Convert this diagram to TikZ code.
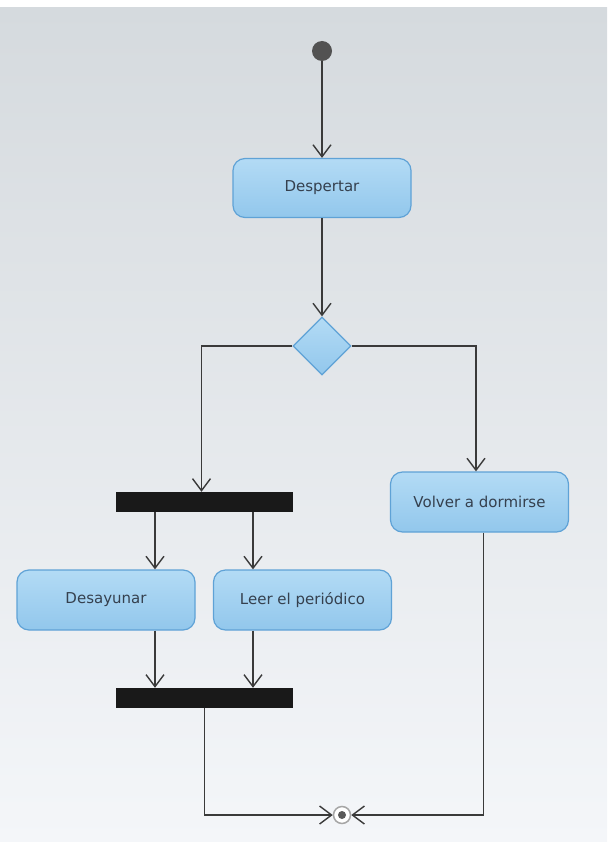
\documentclass[tikz,border=0pt]{standalone}
\usepackage{fontspec}
\setmainfont{DejaVu Sans}
\usetikzlibrary{shapes.geometric,arrows.meta,calc}
\definecolor{boxfillA}{HTML}{B3DBF5}
\definecolor{boxfillB}{HTML}{92C7EC}
\definecolor{boxdraw}{HTML}{5FA2D6}
\definecolor{txtcol}{HTML}{35404E}
\definecolor{linecol}{HTML}{3A3A3A}
\definecolor{bgtop}{HTML}{D5DADE}
\definecolor{bgbot}{HTML}{F4F6F9}
\tikzset{
  action/.style={rectangle, rounded corners=12pt, draw=boxdraw, line width=1.2pt,
    top color=boxfillA, bottom color=boxfillB, minimum width=178pt, minimum height=59pt,
    inner sep=0pt, text=txtcol, font=\fontsize{15}{18}\selectfont},
  decision/.style={diamond, draw=boxdraw, line width=1.2pt, top color=boxfillA,
    bottom color=boxfillB, minimum width=58pt, minimum height=58pt, inner sep=0pt, aspect=1},
  bar/.style={rectangle, fill=black!90, minimum width=177pt, minimum height=20pt, inner sep=0pt},
  flow/.style={draw=linecol, line width=1.4pt, -{Straight Barb[length=12pt,width=18pt]}},
  plain/.style={draw=linecol, line width=1.4pt},
}
\begin{document}
\begin{tikzpicture}[x=1pt,y=-1pt]
\useasboundingbox (0,0) rectangle (607,842);
\fill[white] (0,0) rectangle (607,8);
\fill[top color=bgtop, bottom color=bgbot] (0,8) rectangle (607,842);

\node[circle, fill=black!68, minimum size=20pt, inner sep=0pt] (init) at (322,51) {};
\node[action] (desp) at (322,188) {Despertar};
\node[decision] (dec) at (322,346) {};
\node[bar] (fork) at (204.5,502) {};
\node[action, minimum height=60pt] (volver) at (479.5,502) {Volver a dormirse};
\node[action, minimum height=60pt] (desa) at (106,600) {Desayunar};
\node[action, minimum height=60pt] (leer) at (302.5,600) {Leer el periódico};
\node[bar] (join) at (204.5,698) {};
\node[circle, draw=black!35, fill=white, line width=1.5pt, minimum size=17pt, inner sep=0pt] (final) at (342,815) {};
\node[circle, fill=black!65, minimum size=8pt, inner sep=0pt] (finaldot) at (final.center) {};

\coordinate (fa) at ([xshift=-49.5pt]fork.south);
\coordinate (fb) at ([xshift=48.5pt]fork.south);
\coordinate (ja) at ([xshift=-49.5pt]join.north);
\coordinate (jb) at ([xshift=48.5pt]join.north);

\draw[flow] (init) -- (desp.north);
\draw[flow] (desp.south) -- (dec.north);
\draw[flow] (dec.west) -| ([xshift=-3pt]fork.north);
\draw[flow] (dec.east) -| ([xshift=-3.5pt]volver.north);
\draw[flow] (fa) -- (fa |- desa.north);
\draw[flow] (fb) -- (fb |- leer.north);
\draw[flow] (ja |- desa.south) -- (ja);
\draw[flow] (jb |- leer.south) -- (jb);
\draw[flow] (join.south) |- (final.west);
\draw[flow] ([xshift=4pt]volver.south) |- (final.east);
\end{tikzpicture}
\end{document}
